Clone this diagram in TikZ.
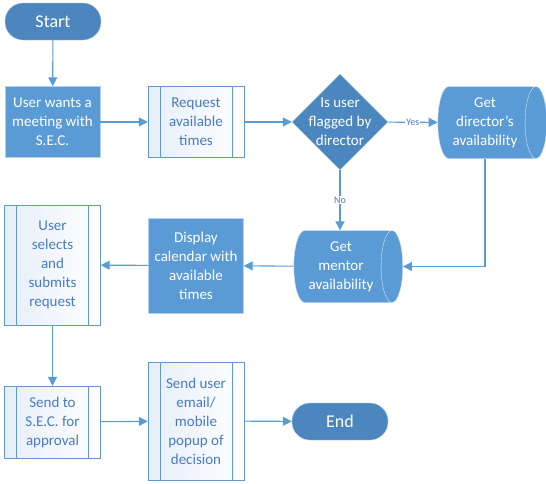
\documentclass[tikz,border=0pt]{standalone}
\usepackage{fontspec}
\setmainfont{Carlito}
\usetikzlibrary{shapes.geometric,arrows.meta,positioning}
\definecolor{secdark}{RGB}{76,134,190}
\definecolor{secblue}{RGB}{91,155,213}
\definecolor{secline}{RGB}{98,152,210}
\definecolor{sectext}{RGB}{72,124,190}
\definecolor{secpale}{RGB}{230,238,249}

\begin{document}
\begin{tikzpicture}[x=1pt,y=-1pt,
    font=\fontsize{15}{19}\selectfont,
    terminal/.style={draw=white!60!secdark,fill=secdark,text=white,rounded corners=18pt,
      minimum width=96pt,minimum height=37pt,font=\fontsize{18}{20}\selectfont},
    process/.style={draw=white!55!secblue,fill=secblue,text=white,align=center,
      inner sep=2pt,minimum width=95pt},
    subproc/.style={draw=secline,left color=secpale,right color=white,text=sectext,
      align=center,inner sep=2pt,minimum width=96pt,
      path picture={\draw[secline]
        ([xshift=12pt]path picture bounding box.north west) -- ([xshift=12pt]path picture bounding box.south west)
        ([xshift=-12pt]path picture bounding box.north east) -- ([xshift=-12pt]path picture bounding box.south east);}},
    decision/.style={diamond,draw=white!60!secdark,fill=secdark,text=white,align=center,
      aspect=1,minimum size=96pt,inner sep=-9pt},
    store/.style={cylinder,shape aspect=0.4,draw=white!70!secblue,fill=secblue,text=white,
      align=center,minimum width=72pt,inner xsep=7.5pt,inner ysep=2pt},
    flow/.style={secblue,line width=1.1pt,-{Triangle[length=9pt,width=9pt]}},
    tag/.style={fill=white,text=sectext,font=\fontsize{10}{12}\selectfont,inner sep=1pt}]
  \useasboundingbox (0,0) rectangle (546,483);

  % meeting request flow
  \node[terminal] (start) at (53,21.5) {Start};
  \node[process,minimum height=71pt] (wants) at (52.5,122) {User wants a\\meeting with\\S.E.C.};
  \node[subproc,minimum height=71pt] (request) at (196,122) {Request\\available\\times};
  \node[decision] (flagged) at (340,122) {Is user\\flagged by\\director};
  \node[store] (director) at (485,122.5) {Get\\director’s\\availability};
  \node[store] (mentor) at (341,266.5) {Get\\mentor\\availability};
  \node[process,minimum height=95pt] (calendar) at (196,265.5) {Display\\calendar with\\available\\times};
  \node[subproc,minimum height=120pt] (selects) at (52.5,265) {User\\selects\\and\\submits\\request};
  \node[subproc,minimum height=72pt] (tosec) at (52.5,422) {Send to\\S.E.C. for\\approval};
  \node[subproc,minimum height=118pt] (notify) at (196,421) {Send user\\email/\\mobile\\popup of\\decision};
  \node[terminal] (end) at (340,421.5) {End};

  \draw[flow] (start) -- (wants);
  \draw[flow] (wants) -- (request);
  \draw[flow] (request) -- (flagged);
  \draw[flow] (flagged) -- node[tag] {Yes} (director);
  \draw[flow] (flagged.south) -- node[tag] {No} (flagged.south |- mentor.north);
  \draw[flow] (director.south) |- (mentor.east);
  \draw[flow] (mentor) -- (calendar);
  \draw[flow] (calendar) -- (selects);
  \draw[flow] (selects) -- (tosec);
  \draw[flow] (tosec) -- (notify);
  \draw[flow] (notify) -- (end);
\end{tikzpicture}
\end{document}
